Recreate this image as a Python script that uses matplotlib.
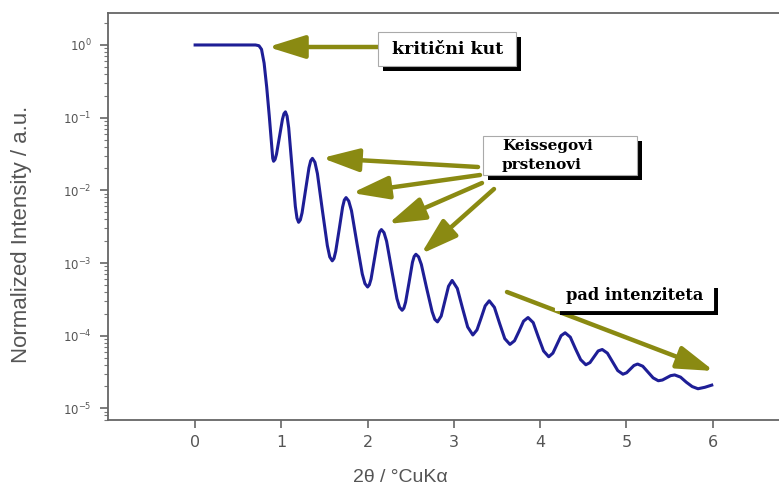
import numpy as np
import matplotlib
matplotlib.use("Agg")
import matplotlib.pyplot as plt
from matplotlib.patches import Rectangle
from matplotlib.ticker import LogLocator, NullFormatter, FixedLocator

# reflectivity curve (2theta in degrees, log10 of intensity)
two_theta = [
    0.0, 0.1, 0.2, 0.3, 0.4, 0.5, 0.6, 0.7, 0.74, 0.77, 0.80, 0.83, 0.86, 0.885, 0.90, 0.91,
    0.927, 0.944, 0.979, 1.013, 1.030, 1.047,
    1.066, 1.085, 1.124, 1.162, 1.181, 1.20,
    1.22, 1.24, 1.28, 1.32, 1.34, 1.36,
    1.389, 1.418, 1.475, 1.533, 1.561, 1.59,
    1.61, 1.63, 1.67, 1.71, 1.73, 1.75,
    1.781, 1.813, 1.875, 1.938, 1.969, 2.00,
    2.02, 2.04, 2.08, 2.12, 2.14, 2.16,
    2.19, 2.22, 2.28, 2.34, 2.37, 2.40,
    2.42, 2.44, 2.48, 2.52, 2.54, 2.56,
    2.591, 2.623, 2.685, 2.748, 2.779, 2.81,
    2.853, 2.895, 2.938, 2.98,
    3.04, 3.10, 3.16, 3.22,
    3.268, 3.315, 3.363, 3.41,
    3.47, 3.53, 3.59, 3.65,
    3.703, 3.755, 3.808, 3.86,
    3.92, 3.98, 4.04, 4.10,
    4.148, 4.195, 4.243, 4.29,
    4.35, 4.41, 4.47, 4.53,
    4.578, 4.625, 4.673, 4.72,
    4.78, 4.84, 4.90, 4.96,
    5.003, 5.045, 5.088, 5.13,
    5.19, 5.25, 5.31, 5.37,
    5.418, 5.465, 5.513, 5.56,
    5.628, 5.695, 5.763, 5.83,
    5.91, 5.99,
]
log_intensity = [
    0, 0, 0, 0, 0, 0, 0, 0, -0.01, -0.06, -0.25, -0.58, -0.98, -1.35, -1.56, -1.60,
    -1.574, -1.50, -1.26, -1.02, -0.946, -0.92,
    -0.978, -1.14, -1.68, -2.22, -2.382, -2.44,
    -2.407, -2.31, -2.00, -1.69, -1.593, -1.56,
    -1.614, -1.77, -2.27, -2.76, -2.916, -2.97,
    -2.937, -2.84, -2.54, -2.23, -2.133, -2.10,
    -2.147, -2.28, -2.72, -3.15, -3.283, -3.33,
    -3.30, -3.22, -2.94, -2.66, -2.57, -2.54,
    -2.582, -2.70, -3.10, -3.49, -3.608, -3.65,
    -3.621, -3.54, -3.27, -2.99, -2.909, -2.88,
    -2.915, -3.02, -3.35, -3.67, -3.775, -3.81,
    -3.73, -3.53, -3.32, -3.24,
    -3.35, -3.62, -3.88, -3.99,
    -3.92, -3.76, -3.59, -3.52,
    -3.61, -3.83, -4.04, -4.12,
    -4.07, -3.94, -3.80, -3.75,
    -3.82, -4.02, -4.21, -4.29,
    -4.24, -4.12, -4.00, -3.96,
    -4.02, -4.18, -4.33, -4.40,
    -4.37, -4.29, -4.21, -4.19,
    -4.24, -4.36, -4.48, -4.53,
    -4.51, -4.46, -4.41, -4.39,
    -4.42, -4.50, -4.58, -4.62,
    -4.61, -4.58, -4.55, -4.54,
    -4.57, -4.64, -4.70, -4.73,
    -4.71, -4.68,
]

y_ticks = [1e-5, 1e-4, 1e-3, 1e-2, 1e-1, 1e0]
y_tick_labels = ["$10^{-5}$", "$10^{-4}$", "$10^{-3}$", "$10^{-2}$", "$10^{-1}$", "$10^{0}$"]
x_ticks = [0, 1, 2, 3, 4, 5, 6]

W, H = 779, 488
OLIVE = "#8a8a12"
GREY = "#555555"


def fp(px, py):
    # picture pixel -> figure fraction
    return (px / W, 1 - py / H)


fig = plt.figure(figsize=(W / 100, H / 100), dpi=100)
ax = fig.add_axes([108 / W, 1 - 420 / H, 1 - 108 / W + 0.01, (420 - 13) / H])

intensity = 10.0 ** np.array(log_intensity)
ax.plot(two_theta, intensity, color="#1e1e96", lw=2.2, solid_joinstyle="round")

ax.set_yscale("log")
ax.set_xlim(-1.01, 6.86)
ax.set_ylim(10 ** -5.16, 10 ** 0.44)
ax.yaxis.set_major_locator(FixedLocator(y_ticks))
ax.set_yticklabels(y_tick_labels)
ax.yaxis.set_minor_locator(LogLocator(base=10, subs=np.arange(2, 10)))
ax.yaxis.set_minor_formatter(NullFormatter())
ax.set_xticks(x_ticks)

ax.spines["right"].set_visible(False)
for s in ["left", "bottom", "top"]:
    ax.spines[s].set_color("#666666")
    ax.spines[s].set_linewidth(1.3)
ax.tick_params(axis="y", which="major", direction="out", length=6, width=1.2,
               colors="#666666", labelsize=8.5, labelcolor=GREY, pad=6)
ax.tick_params(axis="y", which="minor", direction="out", length=3, width=0.8, colors="#777777")
ax.tick_params(axis="x", which="major", direction="out", length=6, width=1.2,
               colors="#666666", labelsize=11.5, labelcolor=GREY, pad=5)

ax.set_ylabel("Normalized Intensity / a.u.", fontsize=16, color=GREY, family="Liberation Sans")
ax.set_xlabel("2θ / °CuKα", fontsize=14, color=GREY, family="Liberation Sans")
ax.yaxis.set_label_coords(-0.112, 0.455)
ax.xaxis.set_label_coords(0.43, -0.12)


def box(x0, y0, x1, y1, off=5, edge="#aaaaaa"):
    (fx0, fy1) = fp(x0, y1)
    (fx1, fy0) = fp(x1, y0)
    sx, sy = off / W, off / H
    fig.patches.append(Rectangle((fx0 + sx, fy1 - sy), fx1 - fx0, fy0 - fy1,
                                 transform=fig.transFigure, facecolor="black",
                                 edgecolor="none", zorder=5))
    fig.patches.append(Rectangle((fx0, fy1), fx1 - fx0, fy0 - fy1,
                                 transform=fig.transFigure, facecolor="white",
                                 edgecolor=edge, lw=0.8, zorder=6))


def arrow(start, tip):
    ax.annotate("", xy=fp(*tip), xycoords="figure fraction",
                xytext=fp(*start), textcoords="figure fraction",
                arrowprops=dict(arrowstyle="-|>,head_length=1.6,head_width=0.5",
                                mutation_scale=14, lw=3.2, color=OLIVE,
                                shrinkA=0, shrinkB=0), zorder=4)


# arrows
arrow((378, 47), (268, 47))
arrow((478, 167), (322, 158))
arrow((480, 175), (352, 193))
arrow((482, 183), (388, 224))
arrow((494, 189), (421, 254))
arrow((507, 292), (714, 371))

# labelled boxes
box(378, 32, 516, 66)
box(483, 136, 637, 175)
box(555, 283, 713, 310, edge="white")

tkw = dict(family="DejaVu Serif", weight="bold", color="black", zorder=7)
fig.text(*fp(392, 50), "kritični kut", ha="left", va="center", fontsize=12.5, **tkw)
fig.text(*fp(502, 146), "Keissegovi", ha="left", va="center", fontsize=11, **tkw)
fig.text(*fp(502, 165), "prstenovi", ha="left", va="center", fontsize=11, **tkw)
fig.text(*fp(566, 296), "pad intenziteta", ha="left", va="center", fontsize=11.7, **tkw)

fig.savefig("out.png", dpi=100)
